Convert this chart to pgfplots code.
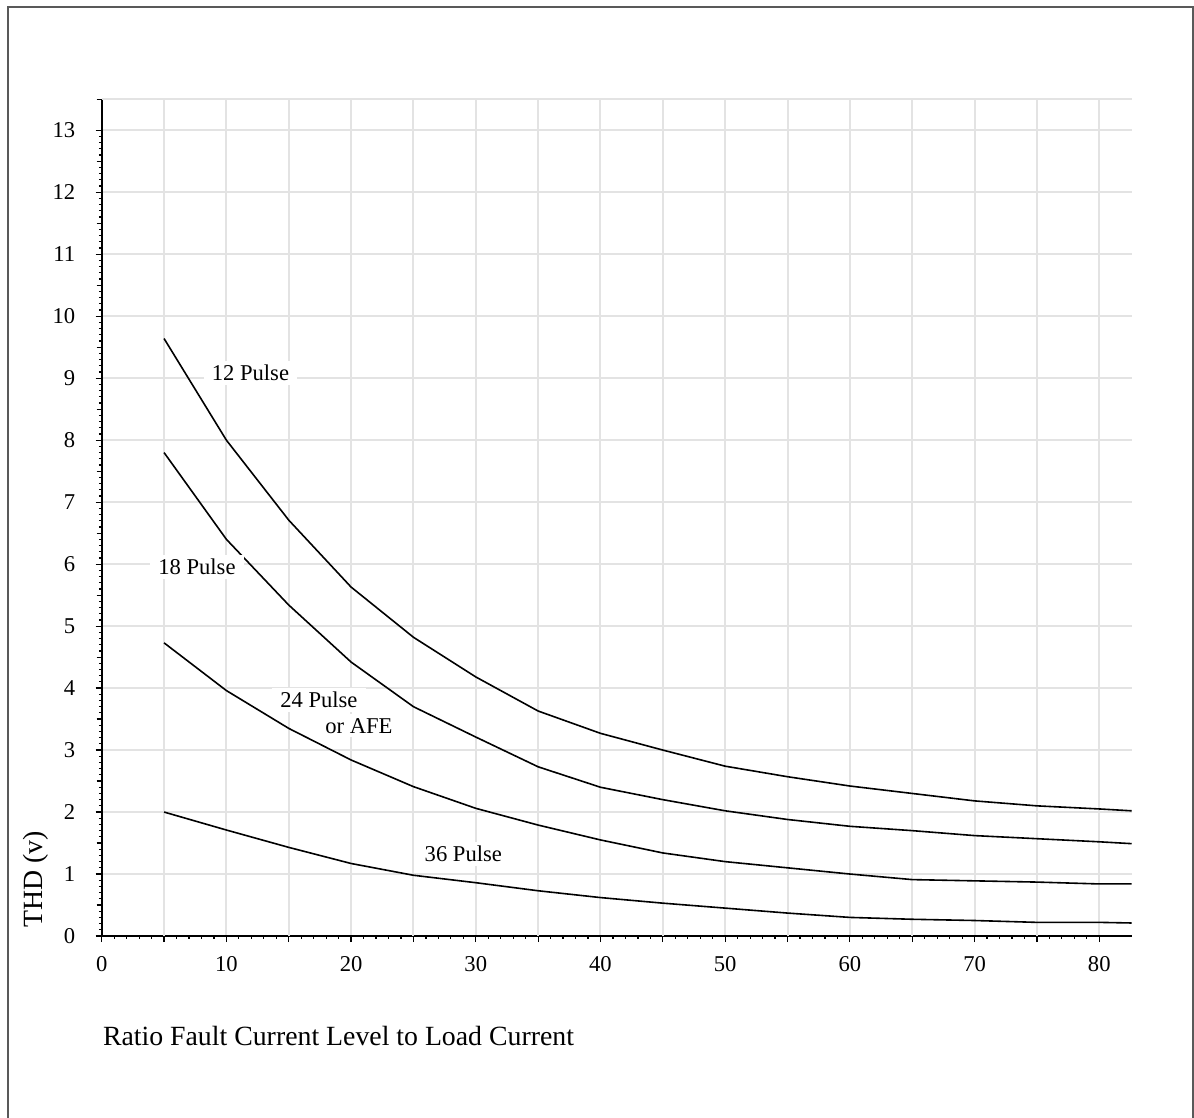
\documentclass[border=0pt]{standalone}
\usepackage{fontspec}
\setmainfont{Liberation Serif}
\usepackage{pgfplots}
\pgfplotsset{compat=1.18}
\begin{document}
\begin{tikzpicture}
\useasboundingbox (0pt,0pt) rectangle (597pt,-559pt);
\draw[line width=1pt, color=black!65] (4pt,-570pt) -- (4pt,-3.5pt) -- (596.25pt,-3.5pt) -- (596.25pt,-570pt);
\begin{axis}[
  at={(50.85pt,-468pt)}, anchor=south west,
  scale only axis, width=515pt, height=418.35pt,
  xmin=0, xmax=82.6, ymin=0, ymax=13.5,
  axis x line=bottom, axis y line=left,
  axis line style={-, line width=1pt, black},
  xtick={0,10,...,80}, ytick={0,1,...,13},
  extra x ticks={5,15,...,75},
  extra x tick labels={},
  extra x tick style={grid=major},
  extra y ticks={0.5,1.5,...,12.5,13.5},
  extra y tick labels={},
  extra y tick style={grid=none, major tick length=2.5pt},
  minor x tick num=9, minor y tick num=9,
  tick align=outside,
  major tick length=3pt, minor tick length=1.4pt,
  every tick/.style={black, line width=0.6pt},
  grid=major,
  major grid style={line width=1pt, color=black!11},
  tick label style={font=\fontsize{11.3}{13}\selectfont},
  /pgf/number format/assume math mode=true,
  yticklabel style={xshift=-6.7pt},
  xticklabel style={yshift=-3.5pt},
  clip=false,
]
\draw[line width=1pt, color=black!11] (axis cs:0,13.5) -- (axis cs:82.6,13.5);
\addplot[black, line width=0.8pt, sharp plot] coordinates {
(5,9.64) (10,8.0) (15,6.71) (20,5.63) (25,4.82) (30,4.18) (35,3.63) (40,3.27) (45,3.0) (50,2.74) (55,2.57) (60,2.42) (65,2.30) (70,2.18) (75,2.10) (80,2.05) (82.6,2.02)};
\addplot[black, line width=0.8pt, sharp plot] coordinates {
(5,7.80) (10,6.40) (15,5.34) (20,4.42) (25,3.70) (30,3.21) (35,2.73) (40,2.40) (45,2.20) (50,2.02) (55,1.88) (60,1.77) (65,1.70) (70,1.62) (75,1.57) (80,1.52) (82.6,1.49)};
\addplot[black, line width=0.8pt, sharp plot] coordinates {
(5,4.73) (10,3.96) (15,3.35) (20,2.84) (25,2.41) (30,2.06) (35,1.79) (40,1.55) (45,1.34) (50,1.20) (55,1.10) (60,1.00) (65,0.91) (70,0.89) (75,0.87) (80,0.84) (82.6,0.84)};
\addplot[black, line width=0.8pt, sharp plot] coordinates {
(5,2.0) (10,1.71) (15,1.43) (20,1.17) (25,0.98) (30,0.86) (35,0.73) (40,0.62) (45,0.53) (50,0.45) (55,0.37) (60,0.30) (65,0.27) (70,0.25) (75,0.22) (80,0.22) (82.6,0.21)};
\tikzset{lbl/.style={fill=white, inner xsep=4pt, inner ysep=2pt, font=\fontsize{11.3}{13}\selectfont}}
\node[lbl] at (axis cs:11.93,9.08) {12 Pulse};
\node[lbl] at (axis cs:7.64,5.95) {18 Pulse};
\node[lbl] at (axis cs:17.42,3.81) {24 Pulse};
\node[lbl] at (axis cs:20.63,3.39) {or AFE};
\node[lbl] at (axis cs:29.0,1.33) {36 Pulse};
\end{axis}
\node[anchor=base west, inner sep=0pt, font=\fontsize{13.9}{16}\selectfont] at (51.3pt,-522.5pt) {Ratio Fault Current Level to Load Current};
\node[anchor=base west, inner sep=0pt, rotate=90, font=\fontsize{13.9}{16}\selectfont] at (21pt,-464pt) {THD (v)};
\end{tikzpicture}
\end{document}
